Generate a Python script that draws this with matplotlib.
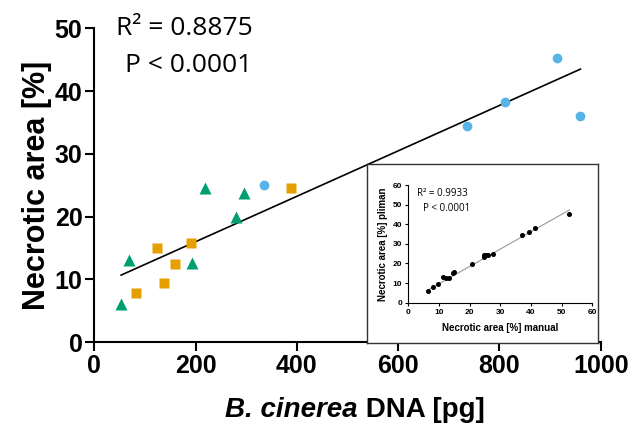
import matplotlib
matplotlib.use('Agg')
import matplotlib.pyplot as plt

GRN = '#009e73'
ORG = '#e69f00'
BLU = '#56b4e9'

# main panel: B. cinerea DNA [pg] vs necrotic area [%]
tri_x = [53, 68, 218, 296, 280, 192]
tri_y = [6.1, 13.1, 24.6, 23.7, 19.9, 12.6]
sq_x = [82, 124, 138, 159, 190, 388]
sq_y = [7.9, 15.0, 9.4, 12.5, 15.8, 24.5]
circ_x = [336, 735, 811, 913, 960]
circ_y = [25.0, 34.4, 38.3, 45.3, 36.1]
fit_x = [53, 960]
fit_y = [10.7, 43.5]

# inset: manual vs pliman
ins_x = [6.5, 7.9, 9.6, 11.2, 12.2, 13.2, 14.5, 15.0, 20.9, 24.5, 24.7, 25.3, 26.0, 27.7,
         37.2, 39.3, 41.3, 52.5]
ins_y = [5.95, 8.0, 9.7, 12.9, 12.4, 12.4, 15.0, 15.8, 19.7, 24.1, 23.1, 24.3, 24.5, 25.0,
         34.3, 36.0, 38.2, 45.4]
ins_fit_x = [6.5, 52.5]
ins_fit_y = [6.5, 47.3]

ARIAL = ['Liberation Sans', 'DejaVu Sans']
plt.rcParams['font.family'] = ARIAL

fig = plt.figure(figsize=(6.33, 4.34), dpi=100)
ax = fig.add_axes([0.149, 0.2113, 0.800, 0.7235])
ax.plot(fit_x, fit_y, color='black', lw=1.2, zorder=2)
ax.plot(tri_x, tri_y, '^', ms=8, color=GRN, mec='none', zorder=3)
ax.plot(sq_x, sq_y, 's', ms=6.5, color=ORG, mec='none', zorder=3)
ax.plot(circ_x, circ_y, 'o', ms=7, color=BLU, mec='none', zorder=3)
ax.set_xlim(0, 1000)
ax.set_ylim(0, 50)
ax.set_xticks(range(0, 1001, 200))
ax.set_yticks(range(0, 51, 10))
for s in ('top', 'right'):
    ax.spines[s].set_visible(False)
for s in ('left', 'bottom'):
    ax.spines[s].set_linewidth(1.5)
ax.tick_params(direction='out', length=6.5, width=1.5, labelsize=18, pad=2)
for lab in ax.get_xticklabels() + ax.get_yticklabels():
    lab.set_fontweight('bold')
ax.set_ylabel('Necrotic area [%]', fontsize=22, fontweight='bold', labelpad=2)
fig.text(0.565, 0.055, 'B. cinerea', fontsize=20, fontweight='bold', style='italic',
         ha='right', va='center')
fig.text(0.565, 0.055, ' DNA [pg]', fontsize=20, fontweight='bold', ha='left', va='center')
OPEN = ['Open Sans', 'DejaVu Sans']
ax.text(0.042, 1.0, 'R² = 0.8875', transform=ax.transAxes, fontsize=19,
        ha='left', va='center', family=OPEN)
ax.text(0.061, 0.88, 'P < 0.0001', transform=ax.transAxes, fontsize=19,
        ha='left', va='center', family=OPEN)

# inset frame
box = fig.add_axes([0.580, 0.2104, 0.365, 0.4116])
box.set_xticks([]); box.set_yticks([])
box.set_facecolor('white')
for s in box.spines.values():
    s.set_linewidth(1.0)
    s.set_color('#333333')

ins = fig.add_axes([0.645, 0.3026, 0.291, 0.2711])
ins.plot(ins_fit_x, ins_fit_y, color='#999999', lw=0.8, zorder=2)
ins.plot(ins_x, ins_y, 'o', ms=2.6, color='black', zorder=3)
ins.set_xlim(0, 60)
ins.set_ylim(0, 60)
ins.set_xticks(range(0, 61, 10))
ins.set_yticks(range(0, 61, 10))
ins.patch.set_alpha(0)
for s in ('top', 'right'):
    ins.spines[s].set_visible(False)
ins.tick_params(direction='out', length=2.5, width=0.8, labelsize=6, pad=2)
for lab in ins.get_xticklabels() + ins.get_yticklabels():
    lab.set_fontweight('bold')
ins.set_xlabel('Necrotic area [%] manual', fontsize=7, fontweight='bold', labelpad=5)
ins.set_ylabel('Necrotic area [%] pliman', fontsize=7, fontweight='bold', labelpad=3)
ins.text(0.05, 0.93, 'R² = 0.9933', transform=ins.transAxes, fontsize=7,
         ha='left', va='center', family=OPEN)
ins.text(0.08, 0.80, 'P < 0.0001', transform=ins.transAxes, fontsize=7,
         ha='left', va='center', family=OPEN)

fig.savefig('out.png', dpi=100)
